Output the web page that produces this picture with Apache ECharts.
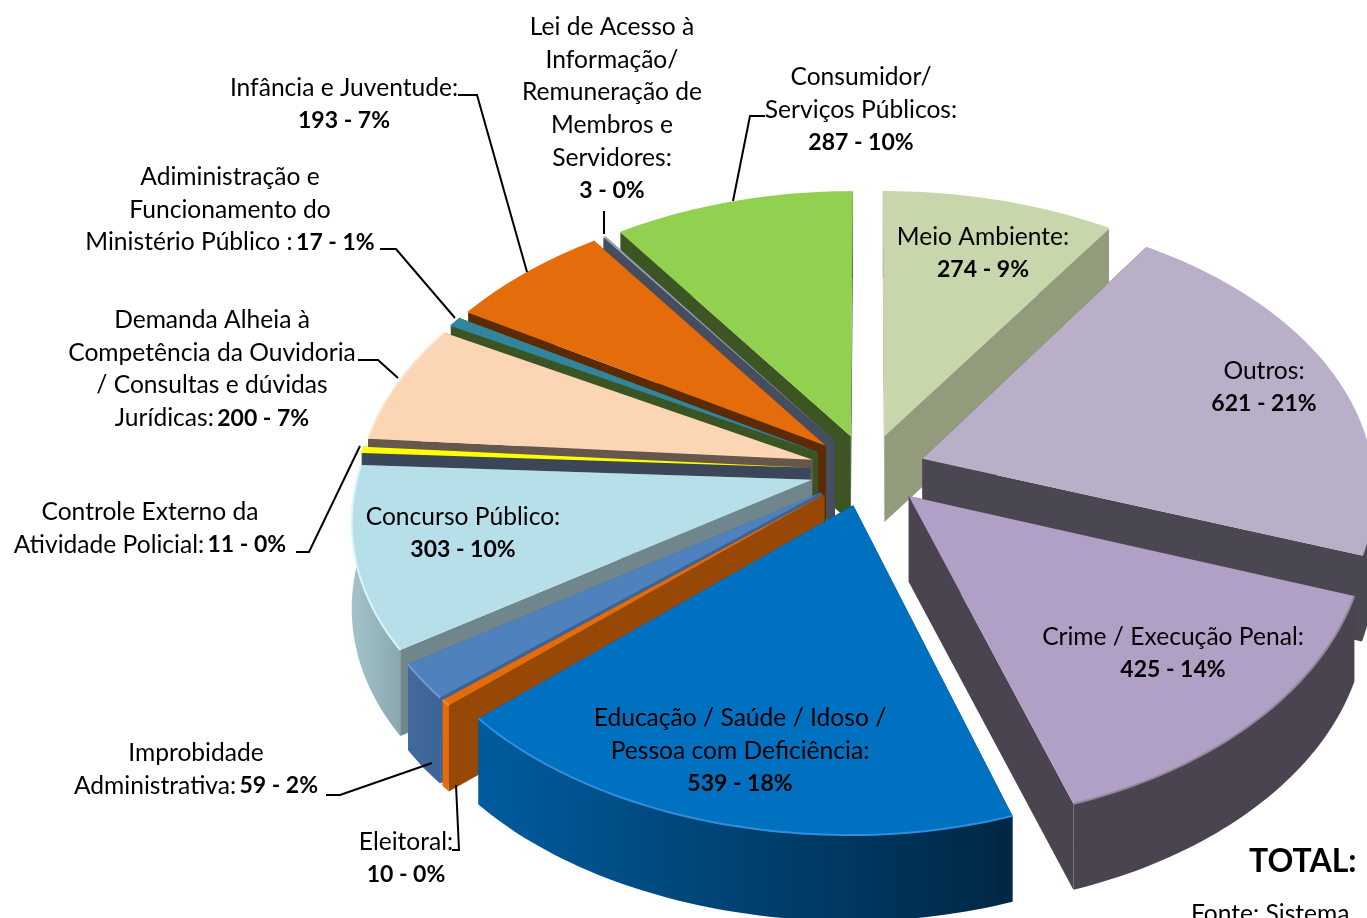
<!DOCTYPE html>
<html>
<head>
<meta charset="utf-8">
<title>Ouvidoria</title>
<script src="https://cdn.jsdelivr.net/npm/echarts@6/dist/echarts.min.js"></script>
<style>
  html, body { margin: 0; padding: 0; background: #fff; overflow: hidden; }
  #chart { width: 1367px; height: 918px; }
</style>
</head>
<body>
<div id="chart"></div>
<script>
// data, clockwise from 12 o'clock
const categories = [
  'Meio Ambiente:', 'Outros:', 'Crime / Execução Penal:',
  'Educação / Saúde / Idoso /\nPessoa com Deficiência:', 'Eleitoral:',
  'Improbidade\nAdministrativa:', 'Concurso Público:',
  'Controle Externo da\nAtividade Policial:',
  'Demanda Alheia à\nCompetência da Ouvidoria\n/ Consultas e dúvidas\nJurídicas:',
  'Adiministração e\nFuncionamento do\nMinistério Público :',
  'Infância e Juventude:',
  'Lei de Acesso à\nInformação/\nRemuneração de\nMembros e\nServidores:',
  'Consumidor/\nServiços Públicos:'
];
const values = [274, 621, 425, 539, 10, 59, 303, 11, 200, 17, 193, 3, 287];
const percents = [9, 21, 14, 18, 0, 2, 10, 0, 7, 1, 7, 0, 10];

// colours per slice
const topColors = ['#c8d6ab', '#b9afc9', '#b0a0c6', '#0070c0', '#e46c0a', '#4f81bd', '#b7dfe9', '#ffff00', '#fcd5b5', '#31859c', '#e46c0a', '#95a5c0', '#92d050'];
const wallColors = ['#929c7c', '#4a4652', '#4a4350', '#00477c', '#974706', '#3d6496', '#6f868c', '#3b4658', '#65574b', '#3b5423', '#5a2b05', '#464d5e', '#3d5522'];
const outerFrom = ['#929c7c', '#4a4652', '#4a4350', '#005c9e', '#e46c0a', '#426a9e', '#a3c3ca', '#3b4658', '#65574b', '#3b5423', '#5a2b05', '#464d5e', '#3d5522'];
const outerTo = ['#929c7c', '#4a4652', '#4a4350', '#002744', '#e46c0a', '#3d6496', '#8aa8af', '#3b4658', '#65574b', '#3b5423', '#5a2b05', '#464d5e', '#3d5522'];
const rimColors = ['#c8d6ab', '#b9afc9', '#8f8a99', '#2f8fdc', '#f08a30', '#6f9bd0', '#d8f6fb', '#ffff00', '#fde3cc', '#31859c', '#e46c0a', '#b4c2da', '#92d050'];

// view of the pie: the left half of the original is a bit wider in front than the right
const CX = 868, CY = 470, RY = 281, PERSP_Y = 0.12, DEPTH = 86, EXPLODE = 0.128;
const RX_LEFT = 453, PERSP_LEFT = 0.132, RX_RIGHT = 450, PERSP_RIGHT = 0.105;
const total = values.reduce((a, b) => a + b, 0);

function project(X, Y, z) {
  const kx = X < 0 ? RX_LEFT / (1 - PERSP_LEFT * Y) : RX_RIGHT / (1 - PERSP_RIGHT * Y);
  return [CX + X * kx, CY + Y * RY / (1 - PERSP_Y * Y) + z * DEPTH];
}

const spans = [];
let running = 0;
values.forEach((v) => {
  const a0 = running / total * Math.PI * 2;
  running += v;
  spans.push([a0, running / total * Math.PI * 2]);
});

function renderSlice(params, api) {
  const i = api.value(0);
  const [a0, a1] = spans[i];
  const mid = (a0 + a1) / 2;
  const ox = Math.sin(mid) * EXPLODE, oy = -Math.cos(mid) * EXPLODE;
  const rim = (a, z) => project(ox + Math.sin(a), oy - Math.cos(a), z);
  const apexTop = project(ox, oy, 0), apexBottom = project(ox, oy, 1);

  const steps = Math.max(2, Math.ceil((a1 - a0) / 0.02));
  const arcTop = [], arcBottom = [];
  for (let s = 0; s <= steps; s++) {
    const a = a0 + (a1 - a0) * s / steps;
    arcTop.push(rim(a, 0));
    arcBottom.push(rim(a, 1));
  }
  const wall = (a) => ({
    type: 'polygon',
    shape: { points: [apexTop, rim(a, 0), rim(a, 1), apexBottom] },
    style: { fill: wallColors[i] }
  });
  return {
    type: 'group',
    children: [
      wall(a0),
      wall(a1),
      {
        type: 'polygon',
        shape: { points: arcTop.concat(arcBottom.slice().reverse()) },
        style: {
          fill: new echarts.graphic.LinearGradient(0, 0, 1, 0, [
            { offset: 0, color: outerFrom[i] },
            { offset: 1, color: outerTo[i] }
          ])
        }
      },
      {
        type: 'polygon',
        shape: { points: [apexTop].concat(arcTop) },
        style: { fill: topColors[i] }
      },
      {
        type: 'polyline',
        shape: { points: arcTop },
        style: { fill: null, stroke: rimColors[i], lineWidth: 2 }
      }
    ]
  };
}

// back slices first so the front ones paint over them
const drawOrder = values.map((v, i) => i).sort((a, b) =>
  -Math.cos((spans[a][0] + spans[a][1]) / 2) + Math.cos((spans[b][0] + spans[b][1]) / 2));

// label anchors: x centre, y of first line centre
const labelPos = [
  [983, 237], [1264, 371], [1173, 637], [740, 718], [406, 842], [196, 753], [463, 517],
  [150, 512], [212, 320], [230, 177], [344, 88], [612, 27], [861, 77]
];
// these keep the value on the same line as the end of the name
const inlineValue = [false, false, false, false, false, true, false, true, true, true, false, false, false];

const leaders = [
  [[765, 116], [750, 116], [733, 201]],
  [[604, 211], [604, 234]],
  [[458, 95], [477, 95], [527, 272]],
  [[380, 249], [396, 249], [455, 318]],
  [[358, 360], [378, 360], [398, 378]],
  [[296, 552], [309, 552], [360, 446]],
  [[326, 795], [340, 795], [432, 763]],
  [[452, 850], [459, 850], [456, 785]]
];

const FONT = 'Lato, "Noto Sans", sans-serif';
const labelGraphics = categories.map((name, i) => {
  const lines = name.split('\n').map((l) => '{n|' + l + '}');
  const val = '{b|' + values[i] + ' - ' + percents[i] + '%}';
  const text = inlineValue[i] ? lines.join('\n') + ' ' + val : lines.join('\n') + '\n' + val;
  return {
    type: 'text',
    z: 50,
    x: labelPos[i][0],
    y: labelPos[i][1] - 16,
    style: {
      text: text,
      align: 'center',
      verticalAlign: 'top',
      rich: {
        n: { fontFamily: FONT, fontSize: 24.6, lineHeight: 32.6, fill: '#000', color: '#000' },
        b: { fontFamily: FONT, fontSize: 23, fontWeight: 'bold', lineHeight: 32.6, fill: '#000', color: '#000' }
      }
    }
  };
});
const leaderGraphics = leaders.map((pts) => ({
  type: 'polyline',
  z: 40,
  shape: { points: pts },
  style: { fill: null, stroke: '#000', lineWidth: 2 }
}));
const noteGraphics = [
  { type: 'text', z: 50, x: 1249, y: 846, style: { text: 'TOTAL:', fontFamily: FONT, fontSize: 32, fontWeight: 'bold', fill: '#000' } },
  { type: 'text', z: 50, x: 1191, y: 902, style: { text: 'Fonte: Sistema', fontFamily: FONT, fontSize: 24.6, fill: '#000' } }
];

const chart = echarts.init(document.getElementById('chart'));
chart.setOption({
  animation: false,
  backgroundColor: '#fff',
  series: [{
    type: 'custom',
    coordinateSystem: 'none',
    renderItem: renderSlice,
    silent: true,
    clip: false,
    data: drawOrder.map((i) => [i, values[i]])
  }],
  graphic: { elements: leaderGraphics.concat(labelGraphics, noteGraphics) }
});
window.addEventListener('resize', chart.resize);
</script>
</body>
</html>
